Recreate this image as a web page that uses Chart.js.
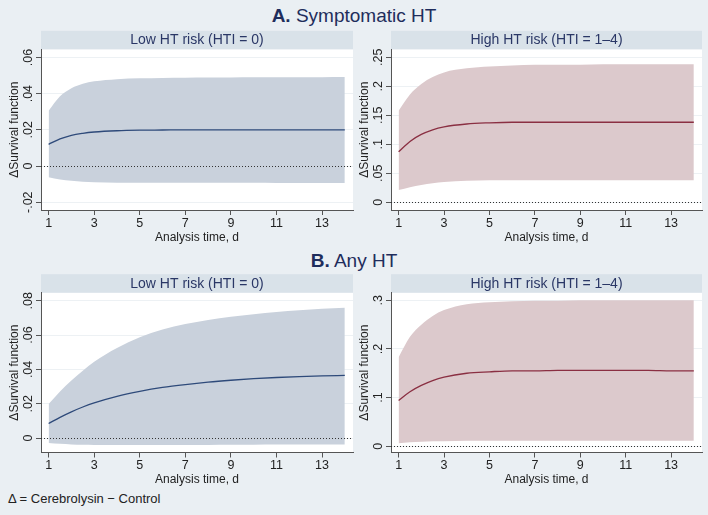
<!DOCTYPE html>
<html>
<head>
<meta charset="utf-8">
<script src="https://cdn.jsdelivr.net/npm/chart.js"></script>
<style>
  body { margin: 0; background: #eaeff3; font-family: "Liberation Sans", Arial, sans-serif; }
  #wrap { position: relative; width: 708px; height: 515px; overflow: hidden; }
  .ttl { position: absolute; left: 0; width: 708px; text-align: center; font-size: 19px; color: #1f2d5c; }
  .ttl b { font-weight: bold; }
  canvas { position: absolute; }
  #note { position: absolute; left: 8px; top: 491px; font-size: 13px; color: #222; }
</style>
</head>
<body>
<div id="wrap">
  <div class="ttl" style="top:5px"><b>A.</b> Symptomatic HT</div>
  <div class="ttl" style="top:250px"><b>B.</b> Any HT</div>
  <canvas id="c1" style="left:0px;top:26px" width="354" height="219"></canvas>
  <canvas id="c2" style="left:350px;top:26px" width="358" height="219"></canvas>
  <canvas id="c3" style="left:0px;top:268px" width="354" height="219"></canvas>
  <canvas id="c4" style="left:350px;top:268px" width="358" height="219"></canvas>
  <div id="note">&Delta; = Cerebrolysin &minus; Control</div>
</div>
<script>
// time points (days)
const days = [1, 1.5, 2, 2.5, 3, 4, 5, 6, 7, 8, 9, 10, 11, 12, 13, 14];
const xTicks = [1, 3, 5, 7, 9, 11, 13];

// A. Symptomatic HT, low risk
const aLowMean  = [0.0120, 0.0150, 0.0170, 0.0181, 0.0188, 0.0195, 0.0198, 0.0199, 0.0200, 0.0200, 0.0200, 0.0200, 0.0200, 0.0200, 0.0200, 0.0200];
const aLowUpper = [0.0305, 0.0385, 0.0430, 0.0455, 0.0468, 0.0480, 0.0485, 0.0487, 0.0488, 0.0489, 0.0489, 0.0490, 0.0490, 0.0491, 0.0491, 0.0492];
const aLowLower = [-0.0062, -0.0074, -0.0082, -0.0087, -0.0089, -0.0092, -0.0093, -0.0093, -0.0093, -0.0093, -0.0093, -0.0093, -0.0094, -0.0094, -0.0094, -0.0094];
const aLowTicks = [-0.02, 0, 0.02, 0.04, 0.06];

// A. Symptomatic HT, high risk
const aHighMean  = [0.087, 0.105, 0.117, 0.125, 0.130, 0.135, 0.137, 0.138, 0.138, 0.138, 0.138, 0.138, 0.138, 0.138, 0.138, 0.138];
const aHighUpper = [0.158, 0.186, 0.204, 0.216, 0.224, 0.231, 0.234, 0.236, 0.237, 0.237, 0.237, 0.238, 0.238, 0.238, 0.238, 0.238];
const aHighLower = [0.021, 0.026, 0.030, 0.033, 0.035, 0.037, 0.038, 0.038, 0.038, 0.038, 0.038, 0.038, 0.038, 0.038, 0.038, 0.038];
const aHighTicks = [0, 0.05, 0.1, 0.15, 0.2, 0.25];

// B. Any HT, low risk
const bLowMean  = [0.0085, 0.0121, 0.0153, 0.0181, 0.0205, 0.0243, 0.0272, 0.0295, 0.0312, 0.0326, 0.0337, 0.0346, 0.0353, 0.0358, 0.0362, 0.0365];
const bLowUpper = [0.0198, 0.0272, 0.0335, 0.0393, 0.0445, 0.0525, 0.0587, 0.0632, 0.0664, 0.0688, 0.0707, 0.0722, 0.0735, 0.0745, 0.0753, 0.0760];
const bLowLower = [-0.0028, -0.0033, -0.0037, -0.0039, -0.0040, -0.0041, -0.0041, -0.0041, -0.0040, -0.0040, -0.0039, -0.0039, -0.0038, -0.0038, -0.0037, -0.0037];
const bLowTicks = [0, 0.02, 0.04, 0.06, 0.08];

// B. Any HT, high risk
const bHighMean  = [0.094, 0.112, 0.125, 0.135, 0.142, 0.150, 0.153, 0.155, 0.155, 0.156, 0.156, 0.156, 0.156, 0.156, 0.155, 0.155];
const bHighUpper = [0.183, 0.225, 0.250, 0.268, 0.280, 0.292, 0.296, 0.298, 0.299, 0.299, 0.300, 0.300, 0.300, 0.300, 0.300, 0.300];
const bHighLower = [0.006, 0.008, 0.009, 0.010, 0.010, 0.011, 0.011, 0.011, 0.011, 0.011, 0.011, 0.011, 0.011, 0.011, 0.011, 0.011];
const bHighTicks = [0, 0.1, 0.2, 0.3];

const blue = { line: '#2e4a7a', fill: 'rgb(201,209,220)' };
const red  = { line: '#8a2f42', fill: 'rgb(220,201,204)' };
const FONT = '"Liberation Sans", Arial, sans-serif';

function fmt(v) {
  if (Math.abs(v) < 1e-9) return '0';
  let s = String(+v.toFixed(3));
  return s.replace('0.', '.');
}

// stata-ish decorations: white plot area, header strip, rotated y labels, dotted zero line
const panelDeco = {
  id: 'panelDeco',
  beforeDraw(chart, args, o) {
    const ctx = chart.ctx, a = chart.chartArea;
    ctx.save();
    ctx.fillStyle = '#ffffff';
    ctx.fillRect(a.left, a.top, a.right - a.left, a.bottom - a.top);
    ctx.fillStyle = '#d9e2e9';
    ctx.fillRect(a.left, a.top - 18.5, a.right - a.left, 18.5);
    ctx.fillStyle = '#2a3766';
    ctx.font = '14px ' + FONT;
    ctx.textAlign = 'center';
    ctx.textBaseline = 'middle';
    ctx.fillText(o.header, (a.left + a.right) / 2, a.top - 9);
    ctx.restore();
  },
  afterDatasetsDraw(chart, args, o) {
    const ctx = chart.ctx, a = chart.chartArea, ys = chart.scales.y;
    ctx.save();
    const y0 = Math.round(ys.getPixelForValue(0)) + 0.5;
    ctx.strokeStyle = '#333';
    ctx.lineWidth = 1;
    ctx.setLineDash([1, 2]);
    ctx.beginPath();
    ctx.moveTo(a.left, y0);
    ctx.lineTo(a.right, y0);
    ctx.stroke();
    ctx.restore();
  },
  afterDraw(chart, args, o) {
    const ctx = chart.ctx, a = chart.chartArea, ys = chart.scales.y;
    ctx.save();
    ctx.fillStyle = '#222';
    ctx.font = '12.5px ' + FONT;
    ctx.textAlign = 'center';
    ctx.textBaseline = 'middle';
    o.ticks.forEach(v => {
      const y = ys.getPixelForValue(v);
      ctx.save();
      ctx.translate(a.left - 12, y);
      ctx.rotate(-Math.PI / 2);
      ctx.fillText(fmt(v), 0, 0);
      ctx.restore();
    });
    ctx.font = '12px ' + FONT;
    ctx.save();
    ctx.translate(a.left - 26, (a.top + a.bottom) / 2);
    ctx.rotate(-Math.PI / 2);
    ctx.fillText('\u0394Survival function', 0, 0);
    ctx.restore();
    ctx.restore();
  }
};

function makePanel(id, header, mean, upper, lower, yTicks, yMin, yMax, col, padTop, padRight, xAxisH) {
  const toPts = arr => days.map((d, i) => ({ x: d, y: arr[i] }));
  new Chart(document.getElementById(id), {
    type: 'line',
    data: {
      datasets: [
        { data: toPts(mean), borderColor: col.line, borderWidth: 1.3, pointRadius: 0, fill: false, cubicInterpolationMode: 'monotone' },
        { data: toPts(upper), borderWidth: 0, borderColor: 'rgba(0,0,0,0)', backgroundColor: col.fill, pointRadius: 0, fill: '+1', cubicInterpolationMode: 'monotone' },
        { data: toPts(lower), borderWidth: 0, borderColor: 'rgba(0,0,0,0)', pointRadius: 0, fill: false, cubicInterpolationMode: 'monotone' }
      ]
    },
    options: {
      responsive: false,
      animation: false,
      layout: { padding: { top: padTop, right: padRight, left: 0, bottom: 0 } },
      plugins: {
        legend: { display: false },
        tooltip: { enabled: false },
        panelDeco: { header: header, ticks: yTicks }
      },
      scales: {
        x: {
          type: 'linear',
          min: 0.665, max: 14.36,
          afterBuildTicks: s => { s.ticks = xTicks.map(v => ({ value: v })); },
          afterFit: s => { s.height = xAxisH; },
          grid: { drawOnChartArea: false, tickLength: 5, tickColor: '#555' },
          border: { color: '#555', width: 1 },
          ticks: { color: '#222', font: { family: FONT, size: 12.5 }, padding: 1, maxRotation: 0, autoSkip: false },
          title: { display: true, text: 'Analysis time, d', color: '#222', font: { family: FONT, size: 12 }, padding: { top: 0, bottom: 0 } }
        },
        y: {
          type: 'linear',
          min: yMin, max: yMax,
          afterBuildTicks: s => { s.ticks = yTicks.map(v => ({ value: v })); },
          afterFit: s => { s.width = 41; },
          grid: { color: '#edf1f4', tickLength: 5, tickColor: '#555' },
          border: { color: '#555', width: 1 },
          ticks: { display: false }
        }
      }
    },
    plugins: [panelDeco]
  });
}

makePanel('c1', 'Low HT risk (HTI = 0)', aLowMean, aLowUpper, aLowLower, aLowTicks, -0.0243, 0.0645, blue, 23.3, 1, 35);
makePanel('c2', 'High HT risk (HTI = 1\u20134)', aHighMean, aHighUpper, aHighLower, aHighTicks, -0.0133, 0.2638, red, 23.3, 6, 35);
makePanel('c3', 'Low HT risk (HTI = 0)', bLowMean, bLowUpper, bLowLower, bLowTicks, -0.0084, 0.0847, blue, 24.7, 1, 34.5);
makePanel('c4', 'High HT risk (HTI = 1\u20134)', bHighMean, bHighUpper, bHighLower, bHighTicks, -0.0130, 0.3157, red, 24.7, 6, 34.5);
</script>
</body>
</html>
